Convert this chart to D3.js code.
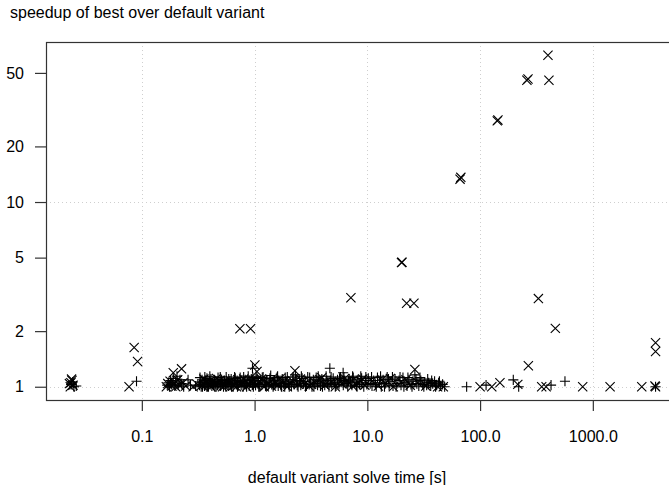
<!DOCTYPE html>
<html>
<head>
<meta charset="utf-8">
<script src="https://cdn.jsdelivr.net/npm/d3@7/dist/d3.min.js"></script>
<style>
  body { margin: 0; background: #fff; }
  svg text { font-family: "Liberation Sans", Arial, sans-serif; fill: #000; }
</style>
</head>
<body>
<svg id="chart" width="669" height="485"></svg>
<script>
'use strict';

// ── Data: [default solve time (s), speedup] ───────────────────
const X_TICKS = [0.1, 1, 10, 100, 1000];
const X_TICK_LABELS = ['0.1', '1.0', '10.0', '100.0', '1000.0'];
const Y_TICKS = [1, 2, 5, 10, 20, 50];
const Y_GRID  = [1, 10];

// "+" series
const plusPoints = [
  [0.0236,1.03],[0.0250,1.00],[0.0262,1.01],[0.0244,1.06],
  [0.0897,1.07],
  [0.168,1.02],[0.172,1.05],[0.176,1.00],[0.18,1.08],[0.184,1.03],[0.19,1.11],[0.196,1.01],
  [0.2,1.06],[0.205,1.14],[0.21,1.02],[0.218,1.09],[0.226,1.04],[0.235,1.00],[0.257,1.09],
  [0.27,1.02],[0.3,1.01],
  [0.325,1.02],[0.33,1.06],[0.336,1.00],[0.342,1.09],[0.348,1.03],[0.355,1.05],[0.36,1.01],
  [0.366,1.08],[0.372,1.02],[0.378,1.11],[0.385,1.04],[0.39,1.00],[0.397,1.07],[0.404,1.03],
  [0.41,1.10],[0.418,1.01],[0.425,1.05],[0.432,1.02],[0.44,1.09],[0.448,1.04],[0.456,1.00],
  [0.465,1.07],[0.474,1.12],[0.483,1.03],[0.492,1.06],[0.5,1.01],[0.51,1.09],[0.52,1.04],
  [0.53,1.00],[0.54,1.08],[0.55,1.03],[0.56,1.13],[0.572,1.05],[0.584,1.01],[0.596,1.07],
  [0.608,1.02],[0.62,1.10],[0.633,1.04],[0.646,1.00],[0.66,1.06],[0.674,1.11],[0.688,1.03],
  [0.7,1.08],[0.715,1.01],[0.73,1.05],[0.745,1.12],[0.76,1.02],[0.776,1.07],[0.792,1.00],
  [0.81,1.04],[0.826,1.09],[0.843,1.02],[0.86,1.06],[0.878,1.14],[0.896,1.01],[0.915,1.05],
  [0.935,1.10],[0.955,1.03],[0.975,1.00],[0.958,1.26],
  [0.328,1.12],[0.345,1.00],[0.362,1.13],[0.381,1.00],[0.401,1.14],[0.421,1.07],[0.444,1.00],
  [0.468,1.02],[0.496,1.13],[0.525,1.06],[0.556,1.00],[0.59,1.10],[0.625,1.00],[0.665,1.13],
  [0.705,1.00],[0.75,1.06],[0.8,1.13],[0.85,1.00],[0.905,1.08],[0.965,1.12],
  [1.0,1.07],[1.02,1.02],[1.05,1.11],[1.07,1.04],[1.1,1.00],[1.13,1.08],[1.16,1.03],
  [1.19,1.13],[1.22,1.05],[1.25,1.01],[1.28,1.09],[1.32,1.02],[1.35,1.06],[1.39,1.15],
  [1.42,1.03],[1.46,1.00],[1.5,1.08],[1.54,1.04],[1.58,1.12],[1.62,1.01],[1.67,1.06],
  [1.71,1.02],[1.76,1.10],[1.8,1.04],[1.85,1.00],[1.9,1.07],[1.95,1.13],[2.0,1.03],
  [2.06,1.05],[2.12,1.01],[2.18,1.09],[2.24,1.03],[2.3,1.16],[2.36,1.06],[2.43,1.00],
  [2.5,1.08],[2.57,1.02],[2.64,1.11],[2.72,1.04],[2.8,1.07],[2.88,1.01],[2.96,1.13],
  [3.05,1.03],[3.14,1.06],[3.23,1.00],[3.32,1.09],[3.42,1.04],[3.52,1.12],[3.62,1.02],
  [3.73,1.07],[3.84,1.01],[3.95,1.10],[4.07,1.05],[4.19,1.02],[4.31,1.14],[4.44,1.04],
  [4.57,1.00],[4.65,1.26],[4.7,1.08],[4.84,1.03],[4.98,1.11],[5.13,1.05],[5.28,1.01],
  [5.44,1.09],[5.6,1.03],[5.77,1.13],[5.94,1.06],[6.1,1.19],[6.12,1.02],[6.3,1.08],
  [6.5,1.04],[6.7,1.00],[6.9,1.10],[7.1,1.05],[7.3,1.02],[7.5,1.12],[7.75,1.06],[8.0,1.01],
  [8.25,1.09],[8.5,1.03],[8.75,1.14],[9.0,1.05],[9.3,1.00],[9.6,1.08],[9.9,1.03],
  [1.03,1.14],[1.09,1.00],[1.17,1.12],[1.27,1.00],[1.37,1.11],[1.48,1.02],[1.6,1.14],
  [1.73,1.00],[1.87,1.12],[2.03,1.00],[2.2,1.13],[2.39,1.02],[2.6,1.14],[2.83,1.00],
  [3.08,1.12],[3.36,1.00],[3.67,1.14],[4.0,1.00],[4.37,1.08],[4.77,1.13],[5.2,1.00],
  [5.67,1.11],[6.2,1.13],[6.8,1.07],[7.4,1.14],[8.1,1.00],[8.9,1.11],[9.7,1.13],
  [10.2,1.11],[10.6,1.04],[11.0,1.01],[11.4,1.08],[11.8,1.03],[12.3,1.12],[12.8,1.05],
  [13.3,1.00],[13.8,1.09],[14.4,1.04],[15.0,1.13],[15.6,1.02],[16.2,1.07],[16.9,1.01],
  [17.6,1.10],[18.3,1.04],[19.1,1.08],[19.9,1.02],[20.7,1.12],[21.6,1.05],[22.5,1.01],
  [23.4,1.09],[24.4,1.03],[25.4,1.07],[26.4,1.16],[27.5,1.04],[28.6,1.01],[29.8,1.08],
  [31.0,1.03],[32.3,1.06],[33.6,1.02],[35.0,1.05],[36.5,1.01],[38.0,1.04],[39.5,1.07],
  [41.2,1.02],[42.9,1.05],[44.7,1.01],[46.5,1.03],
  [10.9,1.13],[12.0,1.00],[13.1,1.14],[14.2,1.00],[15.4,1.10],[16.7,1.13],[18.0,1.00],
  [19.5,1.13],[21.1,1.00],[22.9,1.12],[24.9,1.00],[27.0,1.10],[29.3,1.12],[31.7,1.00],
  [34.3,1.10],[37.2,1.08],[40.3,1.00],[43.6,1.07],[48.5,1.00],
  [76,1.0],[113,1.02],[197,1.09],[220,1.0],[426,1.02],[566,1.07],[3600,1.0]
];

// "x" series
const crossPoints = [
  [400,62.3],[260,45.6],[266,46.3],[408,45.6],[142,27.5],[144,27.8],
  [66.4,13.3],[67.5,13.6],[20.1,4.7],[20.3,4.72],[22.3,2.83],[25.9,2.83],
  [329,3.0],[465,2.07],[3600,1.73],[3600,1.55],[7.15,3.03],[0.741,2.06],[0.921,2.06],
  [0.0855,1.63],[0.0916,1.37],[0.077,1.0],[1.006,1.31],[1.05,1.21],[2.28,1.22],
  [26.4,1.24],[47.2,1.0],[100,1.0],[127,1.0],[150,1.05],[216,1.03],[268,1.30],
  [352,1.0],[385,1.0],[813,1.0],[1422,1.0],[2717,1.0],[3600,1.0],[3560,1.01],
  [0.0232,1.00],[0.0235,1.05],[0.024,1.08],[0.0245,1.02],[0.0228,1.04],[0.0238,1.10],
  [0.165,1.00],[0.17,1.04],[0.178,1.07],[0.185,1.01],[0.19,1.19],[0.195,1.04],[0.2,1.00],
  [0.208,1.09],[0.215,1.02],[0.225,1.25],[0.232,1.05],[0.245,1.01],[0.285,1.0],[0.31,1.03],
  [0.34,1.02],[0.37,1.06],[0.41,1.00],[0.44,1.04],[0.49,1.08],[0.54,1.01],[0.59,1.05],
  [0.65,1.02],[0.71,1.09],[0.77,1.03],[0.85,1.00],[0.93,1.06],[1.04,1.02],[1.12,1.07],
  [1.22,1.00],[1.33,1.04],[1.47,1.09],[1.6,1.02],[1.78,1.05],[1.95,1.00],[2.15,1.08],
  [2.45,1.03],[2.7,1.06],[3.05,1.01],[3.45,1.05],[3.8,1.09],[4.2,1.02],[4.75,1.06],
  [5.2,1.00],[5.9,1.04],[6.6,1.08],[7.4,1.01],[8.4,1.05],[9.5,1.02],[11,1.07],[12.5,1.01],
  [14.5,1.04],[17,1.00],[20,1.06],[24,1.02],[28,1.05],[33,1.01],[38,1.03],[42,1.0],
  [0.355,1.10],[0.395,1.03],[0.46,1.11],[0.52,1.00],[0.61,1.08],[0.69,1.00],[0.8,1.10],
  [0.89,1.03],[1.15,1.10],[1.41,1.01],[1.69,1.11],[2.05,1.04],[2.55,1.10],[3.2,1.03],
  [3.95,1.12],[5.0,1.05],[6.3,1.11],[7.9,1.03],[9.1,1.10],[13.5,1.09],[16,1.11],[22,1.09]
];

// ── Layout ────────────────────────────────────────────────────
const PLOT = { left: 46, right: 679, top: 42, bottom: 400 };
const MARK = 4.6;
const INK  = '#000';
const FONT_SIZE = 16;

const svg = d3.select('#chart');
const all = plusPoints.concat(crossPoints);

// R-style log domain with 4% padding
function padLog(ext) {
  const lo = Math.log10(ext[0]), hi = Math.log10(ext[1]);
  const p = (hi - lo) * 0.04;
  return [Math.pow(10, lo - p), Math.pow(10, hi + p)];
}

const x = d3.scaleLog()
  .domain(padLog(d3.extent(all, d => d[0])))
  .range([PLOT.left, PLOT.right]);
const y = d3.scaleLog()
  .domain(padLog(d3.extent(all, d => d[1])))
  .range([PLOT.bottom, PLOT.top]);

// ── Grid ──────────────────────────────────────────────────────
const grid = svg.append('g')
  .attr('stroke', '#cfcfcf')
  .attr('stroke-width', 1)
  .attr('stroke-dasharray', '1,3');

grid.selectAll('line.vx').data(X_TICKS).join('line')
  .attr('x1', d => Math.round(x(d)) + 0.5).attr('x2', d => Math.round(x(d)) + 0.5)
  .attr('y1', PLOT.top).attr('y2', PLOT.bottom);

grid.selectAll('line.hy').data(Y_GRID).join('line')
  .attr('y1', d => Math.round(y(d)) + 0.5).attr('y2', d => Math.round(y(d)) + 0.5)
  .attr('x1', PLOT.left).attr('x2', PLOT.right);

// ── Points ────────────────────────────────────────────────────
svg.append('clipPath').attr('id', 'clip')
  .append('rect')
  .attr('x', PLOT.left).attr('y', PLOT.top)
  .attr('width', PLOT.right - PLOT.left).attr('height', PLOT.bottom - PLOT.top);

const pts = svg.append('g')
  .attr('clip-path', 'url(#clip)')
  .attr('stroke', INK)
  .attr('stroke-width', 1.1)
  .attr('fill', 'none');

pts.selectAll('path.plus').data(plusPoints).join('path')
  .attr('class', 'plus')
  .attr('d', d => {
    const cx = x(d[0]), cy = y(d[1]), r = MARK * 1.1;
    return `M${cx - r},${cy}H${cx + r}M${cx},${cy - r}V${cy + r}`;
  });

pts.selectAll('path.cross').data(crossPoints).join('path')
  .attr('class', 'cross')
  .attr('d', d => {
    const cx = x(d[0]), cy = y(d[1]), r = MARK;
    return `M${cx - r},${cy - r}L${cx + r},${cy + r}M${cx - r},${cy + r}L${cx + r},${cy - r}`;
  });

// ── Box & axes ────────────────────────────────────────────────
svg.append('rect')
  .attr('x', PLOT.left + 0.5).attr('y', PLOT.top + 0.5)
  .attr('width', PLOT.right - PLOT.left).attr('height', PLOT.bottom - PLOT.top)
  .attr('fill', 'none').attr('stroke', '#333').attr('stroke-width', 1.2);

const xAxis = svg.append('g').attr('transform', `translate(0,${PLOT.bottom})`)
  .call(d3.axisBottom(x).tickValues(X_TICKS)
    .tickFormat((d, i) => X_TICK_LABELS[i]).tickSize(11).tickPadding(20));
xAxis.select('.domain').remove();
xAxis.selectAll('.tick line').attr('stroke', '#333').attr('stroke-width', 1.2);
xAxis.selectAll('text').attr('font-size', FONT_SIZE)
  .style('font-family', '"Liberation Sans", Arial, sans-serif');

const yAxis = svg.append('g').attr('transform', `translate(${PLOT.left},0)`)
  .call(d3.axisLeft(y).tickValues(Y_TICKS).tickFormat(d3.format('d'))
    .tickSize(11).tickPadding(11));
yAxis.select('.domain').remove();
yAxis.selectAll('.tick line').attr('stroke', '#333').attr('stroke-width', 1.2);
yAxis.selectAll('text').attr('font-size', FONT_SIZE)
  .style('font-family', '"Liberation Sans", Arial, sans-serif');

// ── Titles ────────────────────────────────────────────────────
svg.append('text')
  .attr('x', 10).attr('y', 18)
  .attr('font-size', FONT_SIZE)
  .text('speedup of best over default variant');

svg.append('text')
  .attr('x', 347).attr('y', 483)
  .attr('text-anchor', 'middle')
  .attr('font-size', FONT_SIZE)
  .text('default variant solve time [s]');
</script>
</body>
</html>
